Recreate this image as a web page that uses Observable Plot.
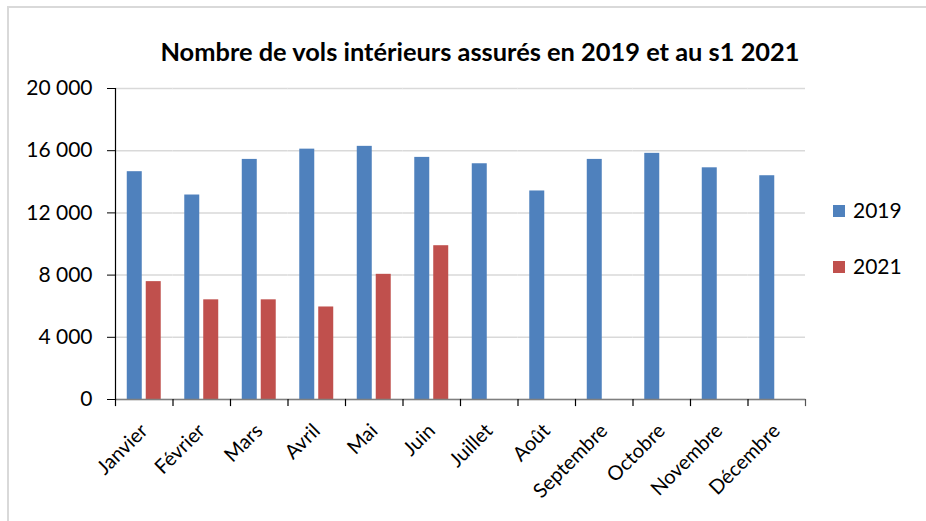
<!DOCTYPE html>
<html>
<head>
<meta charset="utf-8">
<script src="https://cdn.jsdelivr.net/npm/d3@7"></script>
<script src="https://cdn.jsdelivr.net/npm/@observablehq/plot@0.6"></script>
<style>
  body { margin: 0; background: #fff; font-family: Lato, "Open Sans", sans-serif; }
  #wrap { position: relative; width: 926px; height: 521px; overflow: hidden; }
  #border { position: absolute; left: 7px; top: 6px; right: 0; bottom: 0; border-top: 2px solid #d9d9d9; border-left: 2px solid #d9d9d9; pointer-events: none; }
  #title { height: 70px; position: relative; }
  #title span { position: absolute; left: 80px; width: 800px; top: 39px; text-align: center; font-weight: bold; font-size: 25.4px; color: #000; line-height: 1; }
  #chart svg { display: block; }
  .legend { position: absolute; left: 833px; font-size: 21px; color: #000; line-height: 1; }
  .legend .sw { display: inline-block; width: 12px; height: 12px; margin-right: 8px; vertical-align: 1px; }
</style>
</head>
<body>
<div id="wrap">
  <div id="title"><span>Nombre de vols intérieurs assurés en 2019 et au s1 2021</span></div>
  <div id="chart"></div>
  <div id="legend"></div>
  <div id="border"></div>
</div>
<script>
const months = ["Janvier", "Février", "Mars", "Avril", "Mai", "Juin", "Juillet", "Août", "Septembre", "Octobre", "Novembre", "Décembre"];
const years = ["2019", "2021"];
const values2019 = [14650, 13150, 15440, 16100, 16280, 15570, 15160, 13410, 15440, 15830, 14900, 14390];
const values2021 = [7580, 6410, 6410, 5950, 8050, 9890];
const yTicks = [0, 4000, 8000, 12000, 16000, 20000];
const colors = ["#4F81BD", "#C0504D"];

const table = [];
months.forEach((m, i) => {
  table.push({month: m, year: "2019", value: values2019[i]});
  if (i < values2021.length) table.push({month: m, year: "2021", value: values2021[i]});
});

const fmt = d => d3.format(",")(d).replace(/,/g, " ");

const W = 926, H = 451, mT = 18, mB = 122, mL = 115, mR = 121;
const plotH = H - mT - mB;

const chart = Plot.plot({
  width: W, height: H,
  marginTop: mT, marginBottom: mB, marginLeft: mL, marginRight: mR,
  style: {fontFamily: "Lato, 'Open Sans', sans-serif", background: "#fff", color: "#000"},
  fx: {domain: months, padding: 0, round: false, label: null},
  x: {domain: years, paddingInner: 0.21, paddingOuter: 0.62, round: false, axis: null},
  y: {domain: [0, 20000], label: null},
  color: {domain: years, range: colors},
  marks: [
    Plot.gridY(yTicks, {stroke: "#d9d9d9", strokeOpacity: 1, strokeWidth: 1.5}),
    Plot.barY(table, {fx: "month", x: "year", y: "value", fill: "year"}),
    Plot.ruleY([0], {stroke: "#7f7f7f", strokeWidth: 1.5}),
    Plot.frame({anchor: "left", facetAnchor: "left", stroke: "#000", strokeWidth: 1.2}),
    Plot.frame({anchor: "left", insetTop: plotH, insetBottom: -6, stroke: "#000", strokeWidth: 1.2}),
    Plot.frame({anchor: "right", facetAnchor: "right", insetTop: plotH, insetBottom: -6, stroke: "#555", strokeWidth: 1.2}),
    Plot.axisY(yTicks, {tickFormat: fmt, fontSize: 21, tickSize: 8, tickPadding: 15, label: null, stroke: "#000"}),
    Plot.axisFx({anchor: "bottom", tickRotate: -45, tickSize: 0, tickPadding: 28, fontSize: 20, label: null, dx: 0})
  ]
});
document.getElementById("chart").appendChild(chart);

const legend = document.getElementById("legend");
years.forEach((y, i) => {
  const d = document.createElement("div");
  d.className = "legend";
  d.style.top = (199 + i * 56) + "px";
  d.innerHTML = `<span class="sw" style="background:${colors[i]}"></span>${y}`;
  legend.appendChild(d);
});
</script>
</body>
</html>
